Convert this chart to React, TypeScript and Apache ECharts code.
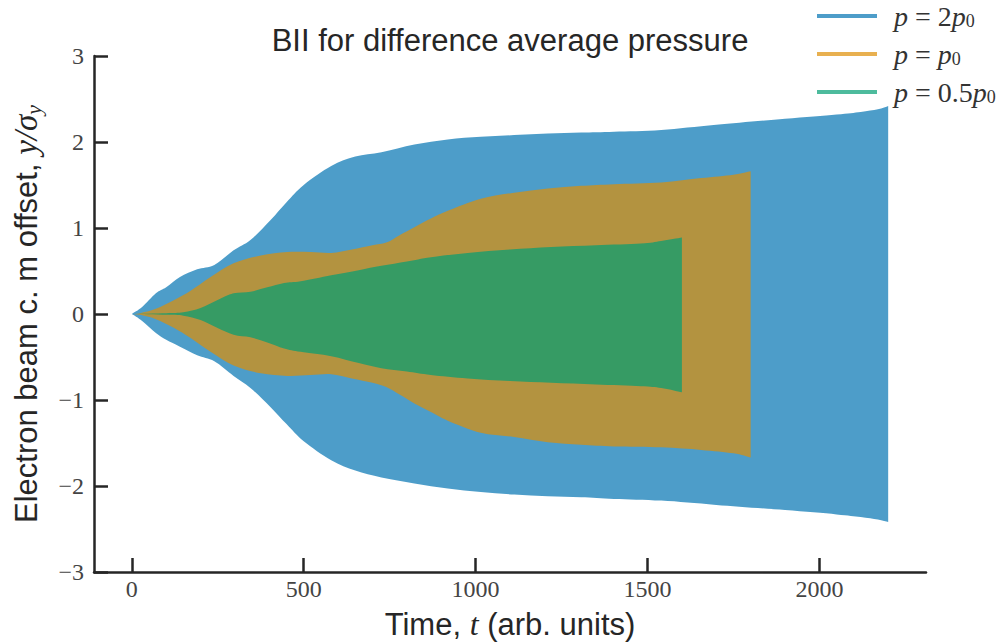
import React, { useEffect, useRef } from "react";
import * as echarts from "echarts";

// Blue: p = 2p0
const blueT = [0, 30, 70, 100, 140, 190, 240, 296, 345, 403, 450, 500, 580, 650, 726, 822, 919, 1015, 1112, 1210, 1307, 1403, 1540, 1700, 1900, 2050, 2120, 2170, 2200];
const blueUpper = [0, 0.08, 0.24, 0.31, 0.43, 0.52, 0.57, 0.74, 0.86, 1.09, 1.3, 1.5, 1.72, 1.83, 1.88, 1.97, 2.03, 2.06, 2.08, 2.1, 2.11, 2.12, 2.14, 2.2, 2.27, 2.32, 2.35, 2.38, 2.42];
const blueLower = [0, -0.08, -0.22, -0.3, -0.38, -0.48, -0.55, -0.72, -0.86, -1.08, -1.28, -1.48, -1.7, -1.82, -1.9, -1.97, -2.03, -2.07, -2.1, -2.12, -2.13, -2.15, -2.17, -2.22, -2.28, -2.33, -2.36, -2.39, -2.42];

// Orange: p = p0
const orangeT = [0, 24, 70, 122, 171, 229, 296, 375, 452, 520, 580, 640, 700, 740, 780, 822, 870, 919, 1015, 1112, 1210, 1307, 1403, 1540, 1656, 1750, 1800];
const orangeUpper = [0, 0.01, 0.06, 0.16, 0.27, 0.43, 0.59, 0.68, 0.72, 0.72, 0.71, 0.75, 0.8, 0.83, 0.92, 1.01, 1.11, 1.2, 1.34, 1.41, 1.46, 1.49, 1.51, 1.53, 1.58, 1.62, 1.66];
const orangeLower = [0, -0.01, -0.06, -0.16, -0.28, -0.44, -0.6, -0.69, -0.72, -0.71, -0.7, -0.75, -0.8, -0.85, -0.94, -1.04, -1.14, -1.24, -1.38, -1.43, -1.49, -1.52, -1.54, -1.55, -1.58, -1.62, -1.67];

// Green: p = 0.5p0
const greenT = [0, 100, 150, 200, 248, 296, 345, 394, 443, 491, 580, 660, 726, 800, 870, 977, 1100, 1220, 1350, 1481, 1540, 1600];
const greenUpper = [0, 0.01, 0.02, 0.07, 0.16, 0.24, 0.26, 0.31, 0.36, 0.38, 0.45, 0.51, 0.56, 0.61, 0.66, 0.71, 0.75, 0.78, 0.8, 0.82, 0.85, 0.89];
const greenLower = [0, -0.01, -0.02, -0.07, -0.16, -0.24, -0.27, -0.33, -0.4, -0.44, -0.49, -0.57, -0.63, -0.67, -0.71, -0.75, -0.78, -0.8, -0.82, -0.84, -0.86, -0.91];

const xTicks = [0, 500, 1000, 1500, 2000];
const seriesNames = ["p = 2p0", "p = p0", "p = 0.5p0"];
const seriesColors = ["rgba(1,115,178,0.7)", "rgba(222,143,5,0.7)", "rgba(2,158,115,0.7)"];

type P = number[];
// Catmull-Rom spline through points, as cubic Bezier segments (continuing an open path)
function splineSegs(pts: P[]): string {
  let d = "";
  const n = pts.length;
  for (let i = 0; i < n - 1; i++) {
    const p0 = pts[Math.max(0, i - 1)];
    const p1 = pts[i];
    const p2 = pts[i + 1];
    const p3 = pts[Math.min(n - 1, i + 2)];
    const c1x = p1[0] + (p2[0] - p0[0]) / 6;
    const c1y = p1[1] + (p2[1] - p0[1]) / 6;
    const c2x = p2[0] - (p3[0] - p1[0]) / 6;
    const c2y = p2[1] - (p3[1] - p1[1]) / 6;
    d += ` C${c1x.toFixed(2)},${c1y.toFixed(2)} ${c2x.toFixed(2)},${c2y.toFixed(2)} ${p2[0].toFixed(2)},${p2[1].toFixed(2)}`;
  }
  return d;
}

function band(name: string, color: string, t: number[], lo: number[], hi: number[]) {
  const data = t.map((x, i) => [x, lo[i], hi[i]]);
  return {
    name,
    type: "custom",
    coordinateSystem: "cartesian2d",
    silent: true,
    itemStyle: { color },
    encode: { x: 0, y: [1, 2] },
    data,
    renderItem: (params: any, api: any) => {
      if (params.dataIndex !== 0) return null;
      const top = data.map((d) => api.coord([d[0], d[2]]));
      const bottom = data.map((d) => api.coord([d[0], d[1]])).reverse();
      let path = `M${top[0][0].toFixed(2)},${top[0][1].toFixed(2)}`;
      path += splineSegs(top);
      path += ` L${bottom[0][0].toFixed(2)},${bottom[0][1].toFixed(2)}`;
      path += splineSegs(bottom);
      path += " Z";
      return {
        type: "path",
        shape: { pathData: path },
        style: { fill: color, stroke: null },
        silent: true,
      };
    },
  };
}

const fmtMinus = (v: number) => (v < 0 ? "\u2212" + Math.abs(v) : String(v));

export default function App() {
  const ref = useRef<HTMLDivElement>(null);
  useEffect(() => {
    if (!ref.current) return;
    const chart = echarts.init(ref.current, undefined, { renderer: "svg" });
    const legendRich = {
      i: { fontFamily: "Liberation Serif", fontStyle: "italic", fontSize: 28, color: "#333" },
      n: { fontFamily: "Liberation Serif", fontSize: 28, color: "#333" },
      s: { fontFamily: "Liberation Serif", fontSize: 18, color: "#333", padding: [10, 0, 0, 0] },
    };
    const legendText: Record<string, string> = {
      "p = 2p0": "{i|p}{n| = 2}{i|p}{s|0}",
      "p = p0": "{i|p}{n| = }{i|p}{s|0}",
      "p = 0.5p0": "{i|p}{n| = 0.5}{i|p}{s|0}",
    };
    chart.setOption({
      animation: false,
      title: {
        text: "BII for difference average pressure",
        left: 505,
        textAlign: "center",
        top: 20,
        textStyle: { fontFamily: "Liberation Sans", fontWeight: "normal", fontSize: 31, color: "#262626" },
      },
      legend: {
        data: seriesNames,
        orient: "vertical",
        left: 812,
        top: -3,
        itemWidth: 60,
        itemHeight: 4,
        itemGap: 10,
        icon: "rect",
        formatter: (n: string) => legendText[n],
        textStyle: { rich: legendRich, padding: [0, 0, 0, 12] },
        selectedMode: false,
      },
      grid: { left: 94, top: 56, width: 832, height: 516, containLabel: false, outerBoundsMode: "none" },
      xAxis: {
        type: "value",
        min: -110,
        max: 2310,
        name: "{a|Time, }{m|t}{a| (arb. units)}",
        nameLocation: "middle",
        nameGap: 36,
        nameTextStyle: {
          rich: {
            a: { fontFamily: "Liberation Sans", fontSize: 31, color: "#262626" },
            m: { fontFamily: "Liberation Serif", fontStyle: "italic", fontSize: 32, color: "#262626" },
          },
        },
        axisLine: { show: true, onZero: false, lineStyle: { color: "#262626", width: 2.5 } },
        axisTick: { show: true, inside: true, length: 14, customValues: xTicks, lineStyle: { color: "#262626", width: 2.5 } },
        axisLabel: {
          customValues: xTicks,
          fontFamily: "Liberation Serif",
          fontSize: 24,
          color: "#444",
          margin: 5,
          formatter: (v: number) => String(v),
        },
        splitLine: { show: false },
      },
      yAxis: {
        type: "value",
        min: -3,
        max: 3,
        interval: 1,
        name: "{a|Electron beam c. m offset, }{m|y/σ}{s|y}",
        nameLocation: "middle",
        nameGap: 50,
        nameTextStyle: {
          rich: {
            a: { fontFamily: "Liberation Sans", fontSize: 31, color: "#262626" },
            m: { fontFamily: "Liberation Serif", fontStyle: "italic", fontSize: 33, color: "#262626" },
            s: { fontFamily: "Liberation Serif", fontStyle: "italic", fontSize: 22, color: "#262626", padding: [14, 0, 0, 0] },
          },
        },
        axisLine: { show: true, onZero: false, lineStyle: { color: "#262626", width: 2.5 } },
        axisTick: { show: true, inside: true, length: 14, lineStyle: { color: "#262626", width: 2.5 } },
        axisLabel: {
          fontFamily: "Liberation Serif",
          fontSize: 24,
          color: "#444",
          margin: 10,
          formatter: fmtMinus,
        },
        splitLine: { show: false },
      },
      series: [
        band(seriesNames[0], seriesColors[0], blueT, blueLower, blueUpper),
        band(seriesNames[1], seriesColors[1], orangeT, orangeLower, orangeUpper),
        band(seriesNames[2], seriesColors[2], greenT, greenLower, greenUpper),
      ],
    });
    return () => chart.dispose();
  }, []);
  return <div ref={ref} style={{ position: "fixed", left: 0, top: 0, width: 1002, height: 642, background: "#fff" }} />;
}
